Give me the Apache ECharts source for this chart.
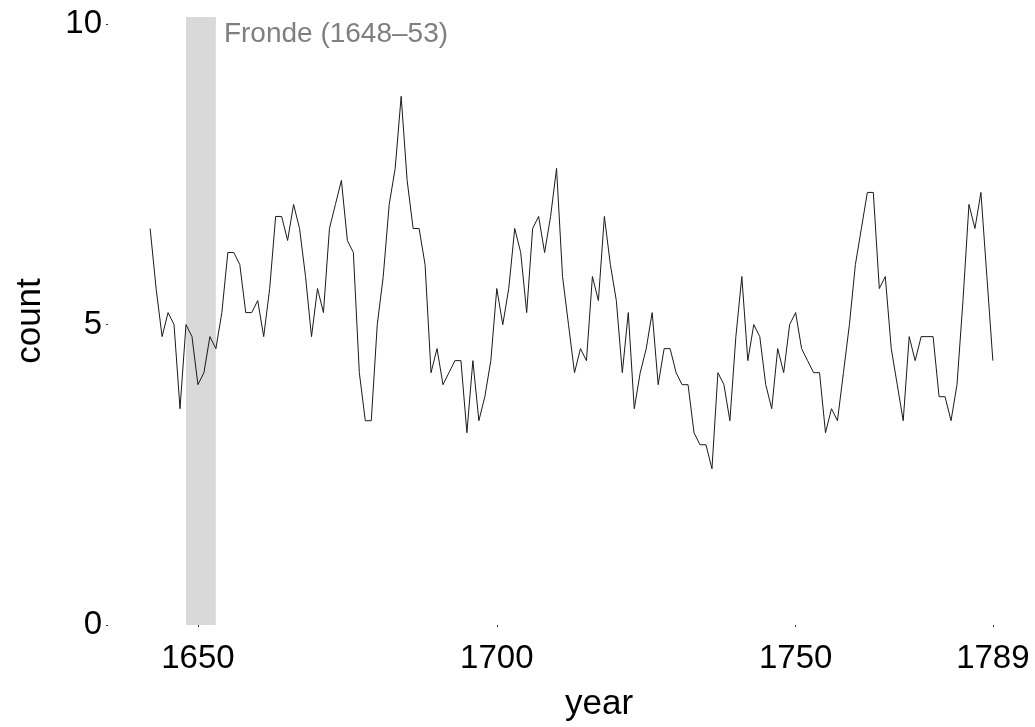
<!DOCTYPE html>
<html>
<head>
  <meta charset="utf-8">
  <title>count by year</title>
  <script src="https://cdn.jsdelivr.net/npm/echarts@6/dist/echarts.min.js"></script>
  <style>
    html, body { margin: 0; padding: 0; background: #fff; }
    #lineChart { width: 1035px; height: 727px; }
  </style>
</head>
<body>
<div id="lineChart"></div>
<script>
  // yearly values, 1642 - 1783
  var years = []
  for (var y = 1642; y <= 1783; y++) years.push(y)
  var counts = [
    6.6, 5.6, 4.8, 5.2, 5.0, 3.6, 5.0, 4.8,            // 1642-1649
    4.0, 4.2, 4.8, 4.6, 5.2, 6.2, 6.2, 6.0, 5.2, 5.2,  // 1650-1659
    5.4, 4.8, 5.6, 6.8, 6.8, 6.4, 7.0, 6.6, 5.8, 4.8,  // 1660-1669
    5.6, 5.2, 6.6, 7.0, 7.4, 6.4, 6.2, 4.2, 3.4, 3.4,  // 1670-1679
    5.0, 5.8, 7.0, 7.6, 8.8, 7.4, 6.6, 6.6, 6.0, 4.2,  // 1680-1689
    4.6, 4.0, 4.2, 4.4, 4.4, 3.2, 4.4, 3.4, 3.8, 4.4,  // 1690-1699
    5.6, 5.0, 5.6, 6.6, 6.2, 5.2, 6.6, 6.8, 6.2, 6.8,  // 1700-1709
    7.6, 5.8, 5.0, 4.2, 4.6, 4.4, 5.8, 5.4, 6.8, 6.0,  // 1710-1719
    5.4, 4.2, 5.2, 3.6, 4.2, 4.6, 5.2, 4.0, 4.6, 4.6,  // 1720-1729
    4.2, 4.0, 4.0, 3.2, 3.0, 3.0, 2.6, 4.2, 4.0, 3.4,  // 1730-1739
    4.8, 5.8, 4.4, 5.0, 4.8, 4.0, 3.6, 4.6, 4.2, 5.0,  // 1740-1749
    5.2, 4.6, 4.4, 4.2, 4.2, 3.2, 3.6, 3.4, 4.2, 5.0,  // 1750-1759
    6.0, 6.6, 7.2, 7.2, 5.6, 5.8, 4.6, 4.0, 3.4, 4.8,  // 1760-1769
    4.4, 4.8, 4.8, 4.8, 3.8, 3.8, 3.4, 4.0, 5.4, 7.0,  // 1770-1779
    6.6, 7.2, 5.8, 4.4                                 // 1780-1783
  ]

  // x ticks: the last label sits on the last data point
  var tickYears = [1650, 1700, 1750, 1783]
  var tickLabels = ['1650', '1700', '1750', '1789']
  var yTicks = [0, 5, 10]

  // Fronde period band
  var frondeStart = 1648
  var frondeEnd = 1653
  var frondeLabel = 'Fronde (1648–53)'

  var font = 'Liberation Sans, Arial, Helvetica, sans-serif'

  var seriesData = years.map(function (yr, i) {
    return [yr, counts[i]]
  })

  var lineChart = echarts.init(document.getElementById('lineChart'))
  var option = {
    animation: false,
    backgroundColor: '#fff',
    grid: {
      left: 108,
      right: 0,
      top: 17,
      bottom: 100,
      containLabel: false
    },
    xAxis: {
      type: 'value',
      min: 1634.95,
      max: 1790.05,
      name: 'year',
      nameLocation: 'middle',
      nameGap: 62,
      nameTextStyle: {
        fontFamily: font,
        fontSize: 35,
        color: '#000',
        padding: [0, 0, 0, 55]
      },
      splitLine: { show: false },
      axisLine: { show: false },
      axisTick: {
        show: true,
        length: 2,
        lineStyle: { color: '#333', width: 1 },
        customValues: tickYears
      },
      axisLabel: {
        fontFamily: font,
        fontSize: 33,
        color: '#000',
        margin: 17,
        customValues: tickYears,
        formatter: function (v) {
          var idx = tickYears.indexOf(v)
          return idx >= 0 ? tickLabels[idx] : ''
        }
      }
    },
    yAxis: {
      type: 'value',
      min: 0,
      max: 10.12,
      name: 'count',
      nameLocation: 'middle',
      nameGap: 60,
      nameTextStyle: {
        fontFamily: font,
        fontSize: 35,
        color: '#000'
      },
      splitLine: { show: false },
      axisLine: { show: false },
      axisTick: {
        show: true,
        length: 2,
        lineStyle: { color: '#333', width: 1 },
        customValues: yTicks
      },
      axisLabel: {
        fontFamily: font,
        fontSize: 33,
        color: '#000',
        margin: 6,
        padding: [8, 0, 0, 0],
        customValues: yTicks
      }
    },
    series: [{
      name: 'count',
      type: 'line',
      data: seriesData,
      showSymbol: false,
      symbol: 'none',
      lineStyle: { color: '#1a1a1a', width: 1 },
      markArea: {
        silent: true,
        itemStyle: { color: '#d9d9d9', opacity: 1 },
        label: {
          show: true,
          position: ['100%', 17],
          align: 'left',
          verticalAlign: 'middle',
          offset: [8, 0],
          fontFamily: font,
          fontSize: 28,
          color: '#7f7f7f',
          formatter: frondeLabel
        },
        data: [[{ xAxis: frondeStart }, { xAxis: frondeEnd }]]
      }
    }]
  }
  lineChart.setOption(option)
</script>
</body>
</html>
